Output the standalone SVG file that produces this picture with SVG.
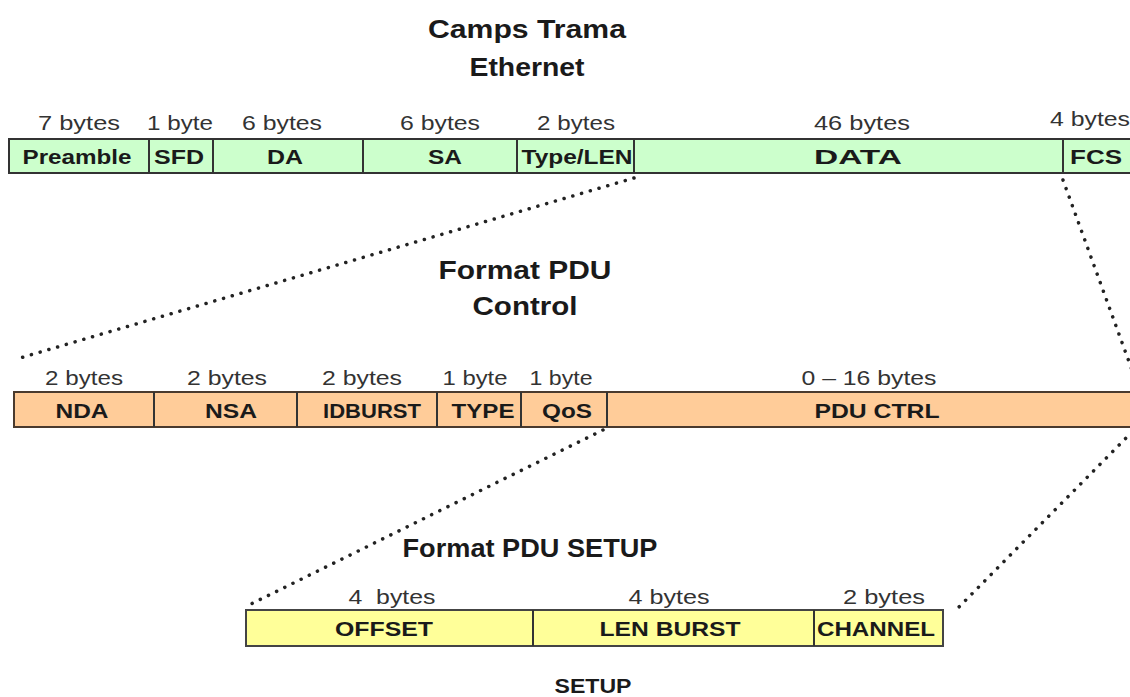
<svg xmlns="http://www.w3.org/2000/svg" width="1130" height="697" viewBox="0 0 1130 697">
<style>
  text { font-family: "Liberation Sans", Arial, sans-serif; text-anchor: middle; }
  .title { font-weight: bold; font-size: 26px; fill: #1a1a1a; }
  .size { font-size: 21px; fill: #333; }
  .field { font-weight: bold; font-size: 21px; fill: #1a1a1a; }
  .cell { stroke: #333; stroke-width: 2; }
  .eth { fill: #ccffcc; }
  .ctl { fill: #ffcc99; stroke: #4a3a2e; }
  .setup { fill: #ffff99; stroke: #444; }
  .div { stroke: #333; stroke-width: 2; }
  .dots { fill: none; stroke: #222; stroke-width: 3.5; stroke-dasharray: 0.1 9; stroke-linecap: round; }
</style>
<rect width="1130" height="697" fill="#ffffff"/>

<!-- Ethernet frame -->
<g id="ethernet">
  <text class="title" x="527" y="38" textLength="198" lengthAdjust="spacingAndGlyphs">Camps Trama</text>
  <text class="title" x="527" y="76" textLength="115" lengthAdjust="spacingAndGlyphs">Ethernet</text>
  <rect class="cell eth" x="9" y="139" width="1130" height="34"/>
  <g class="div">
    <line x1="149" y1="139" x2="149" y2="173"/>
    <line x1="213" y1="139" x2="213" y2="173"/>
    <line x1="363" y1="139" x2="363" y2="173"/>
    <line x1="517" y1="139" x2="517" y2="173"/>
    <line x1="634" y1="139" x2="634" y2="173"/>
    <line x1="1063" y1="139" x2="1063" y2="173"/>
  </g>
  <text class="size" x="79" y="130" textLength="82" lengthAdjust="spacingAndGlyphs">7 bytes</text>
  <text class="size" x="180" y="130" textLength="66" lengthAdjust="spacingAndGlyphs">1 byte</text>
  <text class="size" x="282" y="130" textLength="80" lengthAdjust="spacingAndGlyphs">6 bytes</text>
  <text class="size" x="440" y="130" textLength="80" lengthAdjust="spacingAndGlyphs">6 bytes</text>
  <text class="size" x="576" y="130" textLength="78" lengthAdjust="spacingAndGlyphs">2 bytes</text>
  <text class="size" x="862" y="130" textLength="96" lengthAdjust="spacingAndGlyphs">46 bytes</text>
  <text class="size" x="1090" y="126" textLength="80" lengthAdjust="spacingAndGlyphs">4 bytes</text>
  <text class="field" x="77" y="164" textLength="109" lengthAdjust="spacingAndGlyphs">Preamble</text>
  <text class="field" x="179" y="164" textLength="50" lengthAdjust="spacingAndGlyphs">SFD</text>
  <text class="field" x="285" y="164" textLength="36" lengthAdjust="spacingAndGlyphs">DA</text>
  <text class="field" x="445" y="164" textLength="34" lengthAdjust="spacingAndGlyphs">SA</text>
  <text class="field" x="577" y="164" textLength="111" lengthAdjust="spacingAndGlyphs">Type/LEN</text>
  <text class="field" x="858" y="164" textLength="88" lengthAdjust="spacingAndGlyphs">DATA</text>
  <text class="field" x="1096" y="164" textLength="52" lengthAdjust="spacingAndGlyphs">FCS</text>
</g>

<!-- Control PDU -->
<g id="control">
  <text class="title" x="525" y="279" textLength="173" lengthAdjust="spacingAndGlyphs">Format PDU</text>
  <text class="title" x="525" y="315" textLength="105" lengthAdjust="spacingAndGlyphs">Control</text>
  <rect class="cell ctl" x="14" y="392" width="1130" height="35"/>
  <g class="div">
    <line x1="154" y1="392" x2="154" y2="427"/>
    <line x1="297" y1="392" x2="297" y2="427"/>
    <line x1="437" y1="392" x2="437" y2="427"/>
    <line x1="521" y1="392" x2="521" y2="427"/>
    <line x1="607" y1="392" x2="607" y2="427"/>
  </g>
  <text class="size" x="84" y="385" textLength="78" lengthAdjust="spacingAndGlyphs">2 bytes</text>
  <text class="size" x="227" y="385" textLength="80" lengthAdjust="spacingAndGlyphs">2 bytes</text>
  <text class="size" x="362" y="385" textLength="80" lengthAdjust="spacingAndGlyphs">2 bytes</text>
  <text class="size" x="475" y="385" textLength="65" lengthAdjust="spacingAndGlyphs">1 byte</text>
  <text class="size" x="561" y="385" textLength="63" lengthAdjust="spacingAndGlyphs">1 byte</text>
  <text class="size" x="869" y="385" textLength="135" lengthAdjust="spacingAndGlyphs">0 – 16 bytes</text>
  <text class="field" x="82" y="418" textLength="53" lengthAdjust="spacingAndGlyphs">NDA</text>
  <text class="field" x="231" y="418" textLength="52" lengthAdjust="spacingAndGlyphs">NSA</text>
  <text class="field" x="372" y="418" textLength="98" lengthAdjust="spacingAndGlyphs">IDBURST</text>
  <text class="field" x="483" y="418" textLength="63" lengthAdjust="spacingAndGlyphs">TYPE</text>
  <text class="field" x="567" y="418" textLength="50" lengthAdjust="spacingAndGlyphs">QoS</text>
  <text class="field" x="877" y="418" textLength="125" lengthAdjust="spacingAndGlyphs">PDU CTRL</text>
</g>

<!-- SETUP PDU -->
<g id="setup">
  <text class="title" x="530" y="557" textLength="255" lengthAdjust="spacingAndGlyphs">Format PDU SETUP</text>
  <rect class="cell setup" x="246" y="610" width="697" height="36"/>
  <g class="div">
    <line x1="533" y1="610" x2="533" y2="646"/>
    <line x1="814" y1="610" x2="814" y2="646"/>
  </g>
  <text class="size" x="392" y="604" textLength="87" lengthAdjust="spacingAndGlyphs" xml:space="preserve">4  bytes</text>
  <text class="size" x="669" y="604" textLength="81" lengthAdjust="spacingAndGlyphs">4 bytes</text>
  <text class="size" x="884" y="604" textLength="82" lengthAdjust="spacingAndGlyphs">2 bytes</text>
  <text class="field" x="384" y="636" textLength="98" lengthAdjust="spacingAndGlyphs">OFFSET</text>
  <text class="field" x="670" y="636" textLength="141" lengthAdjust="spacingAndGlyphs">LEN BURST</text>
  <text class="field" x="876" y="636" textLength="118" lengthAdjust="spacingAndGlyphs">CHANNEL</text>
  <text class="field" x="593" y="693" textLength="77" lengthAdjust="spacingAndGlyphs">SETUP</text>
</g>

<!-- Expansion connectors -->
<g id="connectors">
  <path class="dots" d="M634 178 L20 358"/>
  <path class="dots" d="M1063 180 L1132 370"/>
  <path class="dots" d="M603 430 L247 606"/>
  <path class="dots" d="M1132 432 L956 610"/>
</g>
</svg>
